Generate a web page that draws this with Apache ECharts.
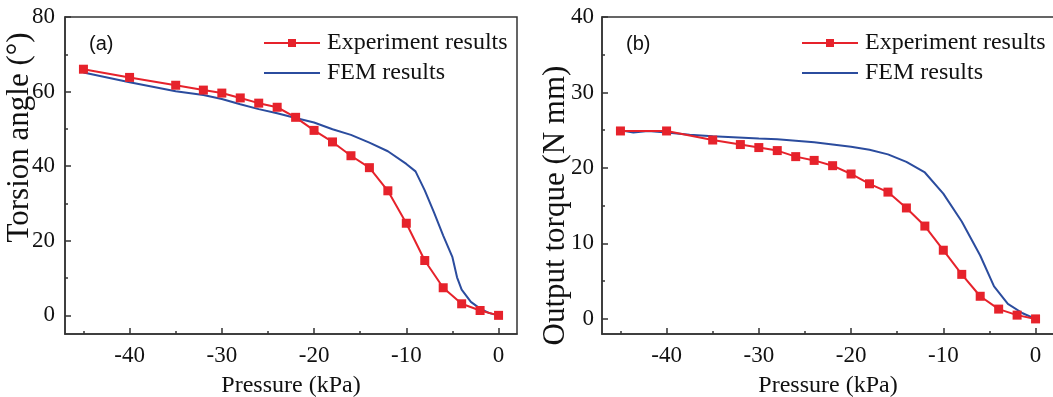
<!DOCTYPE html>
<html>
<head>
<meta charset="utf-8">
<script src="https://cdn.jsdelivr.net/npm/echarts@6/dist/echarts.min.js"></script>
<style>html,body{margin:0;padding:0;background:#fff;}#c{width:1053px;height:397px;}</style>
</head>
<body>
<div id="c"></div>
<script>
// ---- data (a) torsion angle ----
var expAx = [-45,-40,-35,-32,-30,-28,-26,-24,-22,-20,-18,-16,-14,-12,-10,-8,-6,-4,-2,0];
var expAy = [66.0,63.8,61.7,60.4,59.6,58.3,56.9,55.8,53.1,49.6,46.5,42.8,39.6,33.4,24.7,14.7,7.4,3.1,1.3,0];
var femAx = [-45,-40,-35,-32,-30,-28,-26,-24,-22,-20,-18,-16,-14,-12,-10,-9,-8,-7,-6,-5,-4.5,-4,-3,-2,-1,0];
var femAy = [65.1,62.5,60.1,59.1,58.0,56.6,55.3,54.2,52.9,51.7,49.9,48.4,46.3,44.0,40.6,38.6,33.5,27.6,21.4,15.6,10.2,6.9,3.6,1.8,0.6,0];
// ---- data (b) output torque ----
var expBx = [-45,-40,-35,-32,-30,-28,-26,-24,-22,-20,-18,-16,-14,-12,-10,-8,-6,-4,-2,0];
var expBy = [24.9,24.9,23.7,23.1,22.7,22.3,21.5,21.0,20.3,19.2,17.9,16.8,14.7,12.3,9.1,5.9,3.0,1.3,0.5,0];
var femBx = [-45,-43.6,-42,-40,-37.5,-35,-30,-28,-24,-20,-18,-16,-14,-12,-10,-8,-6,-4.5,-3,-1.4,0];
var femBy = [25.0,24.7,24.9,24.7,24.4,24.2,23.9,23.8,23.4,22.8,22.4,21.8,20.8,19.4,16.6,12.9,8.4,4.3,2.0,0.75,0];
// ---- ticks ----
var xMajor = [-40,-30,-20,-10,0];
var xMinor = [-45,-35,-25,-15,-5];
var yAMajor = [0,20,40,60,80];
var yAMinor = [10,30,50,70];
var yBMajor = [0,10,20,30,40];
var yBMinor = [5,15,25,35];
var names = ['Experiment results','FEM results'];
var xTitle = 'Pressure (kPa)';
var yTitleA = 'Torsion angle (°)';
var yTitleB = 'Output torque (N mm)';

function pairs(xs, ys){ return xs.map(function(x,i){ return [x, ys[i]]; }); }

var serif = "'Liberation Serif','Times New Roman',serif";
var axisCol = '#333';
var red = '#e6222b', blue = '#2b4c9e';

function majorX(grid){
  return {type:'value', gridIndex:grid, min:-47, max:2, position:'bottom',
    name:xTitle, nameLocation:'middle', nameGap:40, nameMoveOverlap:false,
    nameTextStyle:{fontFamily:serif, fontSize:24, color:'#111'},
    axisLine:{show:true, onZero:false, lineStyle:{color:axisCol, width:1.5}},
    axisTick:{show:true, inside:true, length:6, customValues:xMajor, lineStyle:{color:axisCol, width:1.5}},
    axisLabel:{show:true, customValues:xMajor, margin:10, fontFamily:serif, fontSize:23, color:'#111'},
    splitLine:{show:false}};
}
function minorX(grid){
  return {type:'value', gridIndex:grid, min:-47, max:2, position:'bottom',
    axisLine:{show:false, onZero:false},
    axisTick:{show:true, inside:true, length:3, customValues:xMinor, lineStyle:{color:axisCol, width:1.5}},
    axisLabel:{show:false}, splitLine:{show:false}};
}
function majorY(grid, min, max, vals, title, pad, lm, gap){
  return {type:'value', gridIndex:grid, min:min, max:max, position:'left',
    name:title, nameLocation:'middle', nameGap:gap, nameMoveOverlap:false,
    nameTextStyle:{fontFamily:serif, fontSize:31, color:'#111', padding:pad},
    axisLine:{show:true, onZero:false, lineStyle:{color:axisCol, width:1.5}},
    axisTick:{show:true, inside:true, length:6, customValues:vals, lineStyle:{color:axisCol, width:1.5}},
    axisLabel:{show:true, customValues:vals, margin:lm, fontFamily:serif, fontSize:23, color:'#111'},
    splitLine:{show:false}};
}
function minorY(grid, min, max, vals){
  return {type:'value', gridIndex:grid, min:min, max:max, position:'left',
    axisLine:{show:false, onZero:false},
    axisTick:{show:true, inside:true, length:3, customValues:vals, lineStyle:{color:axisCol, width:1.5}},
    axisLabel:{show:false}, splitLine:{show:false}};
}
function legend(left){
  return {left:left, top:26, orient:'vertical', itemWidth:56, itemHeight:10, itemGap:6,
    data:[{name:names[0]}, {name:names[1], icon:'path://M0,0L56,0L56,2L0,2Z'}], selectedMode:false,
    textStyle:{fontFamily:serif, fontSize:24, color:'#111', lineHeight:24, padding:[0,0,0,2]}};
}
function expSeries(name, xi, data){
  return {name:name, type:'line', xAxisIndex:xi, yAxisIndex:xi, data:data,
    symbol:'rect', symbolSize:9, showSymbol:true, z:3,
    lineStyle:{color:red, width:2}, itemStyle:{color:red}};
}
function femSeries(name, xi, data){
  return {name:name, type:'line', xAxisIndex:xi, yAxisIndex:xi, data:data,
    symbol:'none', z:2, lineStyle:{color:blue, width:2}, itemStyle:{color:blue}};
}

var chart = echarts.init(document.getElementById('c'), null, {renderer:'canvas'});
chart.setOption({
  animation:false,
  backgroundColor:'#fff',
  title:[
    {text:'(a)', left:84, top:29, textStyle:{fontFamily:"'Liberation Sans',Arial,sans-serif", fontSize:20, fontWeight:'normal', color:'#111'}},
    {text:'(b)', left:621, top:29, textStyle:{fontFamily:"'Liberation Sans',Arial,sans-serif", fontSize:20, fontWeight:'normal', color:'#111'}}
  ],
  grid:[
    {left:65, top:17, width:452, height:317, containLabel:false, outerBoundsMode:'none', show:true, borderColor:axisCol, borderWidth:1.5, backgroundColor:'transparent'},
    {left:602, top:17, width:452, height:317, containLabel:false, outerBoundsMode:'none', show:true, borderColor:axisCol, borderWidth:1.5, backgroundColor:'transparent'}
  ],
  legend:[legend(258), legend(796)],
  xAxis:[majorX(0), majorX(1), minorX(0), minorX(1)],
  yAxis:[majorY(0,-5,80,yAMajor,yTitleA,[0,0,0,76],10,30), majorY(1,-2,40,yBMajor,yTitleB,[0,60,0,0],8,31),
         minorY(0,-5,80,yAMinor), minorY(1,-2,40,yBMinor)],
  series:[
    femSeries(names[1], 0, pairs(femAx, femAy)),
    expSeries(names[0], 0, pairs(expAx, expAy)),
    femSeries(names[1], 1, pairs(femBx, femBy)),
    expSeries(names[0], 1, pairs(expBx, expBy))
  ]
});
</script>
</body>
</html>
